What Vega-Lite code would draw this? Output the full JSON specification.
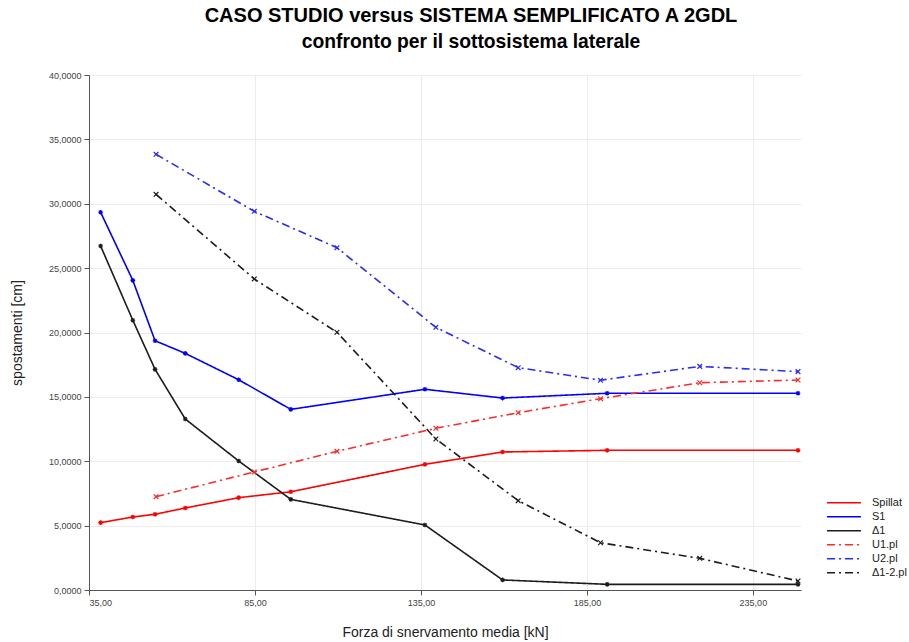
{
  "$schema": "https://vega.github.io/schema/vega-lite/v6.json",
  "autosize": "none",
  "width": 712,
  "height": 515,
  "padding": {"left": 89, "top": 75, "right": 108, "bottom": 52},
  "background": "white",
  "config": {
    "font": "Liberation Sans",
    "view": {"stroke": null},
    "axis": {"labelFont": "Liberation Sans", "titleFont": "Liberation Sans", "labelColor": "#444", "labelFontSize": 9, "titleFontSize": 14, "titleFontWeight": "normal", "titleColor": "#222", "gridColor": "#ececec", "tickColor": "#555", "domainColor": "#555", "tickSize": 5}
  },
  "title": {
    "text": "CASO STUDIO versus SISTEMA SEMPLIFICATO A 2GDL",
    "subtitle": "confronto per il sottosistema laterale",
    "font": "Liberation Sans",
    "subtitleFont": "Liberation Sans",
    "fontSize": 20,
    "fontWeight": "bold",
    "subtitleFontSize": 19.3,
    "subtitleFontWeight": "bold",
    "subtitleColor": "#000",
    "color": "#000",
    "anchor": "middle",
    "dx": 26,
    "offset": 19,
    "subtitlePadding": 7
  },
  "data": {
    "values": [
      {"serie": "Spillat", "x": 38.5, "y": 5.23},
      {"serie": "Spillat", "x": 48.2, "y": 5.67},
      {"serie": "Spillat", "x": 54.9, "y": 5.88},
      {"serie": "Spillat", "x": 64.0, "y": 6.37},
      {"serie": "Spillat", "x": 80.1, "y": 7.17},
      {"serie": "Spillat", "x": 95.8, "y": 7.63},
      {"serie": "Spillat", "x": 136.2, "y": 9.76},
      {"serie": "Spillat", "x": 159.6, "y": 10.72},
      {"serie": "Spillat", "x": 191.1, "y": 10.85},
      {"serie": "Spillat", "x": 248.6, "y": 10.85},
      {"serie": "S1", "x": 38.5, "y": 29.34},
      {"serie": "S1", "x": 48.2, "y": 24.05},
      {"serie": "S1", "x": 54.9, "y": 19.36},
      {"serie": "S1", "x": 64.0, "y": 18.38},
      {"serie": "S1", "x": 80.1, "y": 16.33},
      {"serie": "S1", "x": 95.8, "y": 14.03},
      {"serie": "S1", "x": 136.2, "y": 15.59},
      {"serie": "S1", "x": 159.6, "y": 14.91},
      {"serie": "S1", "x": 191.1, "y": 15.28},
      {"serie": "S1", "x": 248.6, "y": 15.28},
      {"serie": "Δ1", "x": 38.5, "y": 26.72},
      {"serie": "Δ1", "x": 48.2, "y": 20.95},
      {"serie": "Δ1", "x": 54.9, "y": 17.14},
      {"serie": "Δ1", "x": 64.0, "y": 13.28},
      {"serie": "Δ1", "x": 80.1, "y": 10.02},
      {"serie": "Δ1", "x": 95.8, "y": 7.04},
      {"serie": "Δ1", "x": 136.2, "y": 5.05},
      {"serie": "Δ1", "x": 159.6, "y": 0.78},
      {"serie": "Δ1", "x": 191.1, "y": 0.44},
      {"serie": "Δ1", "x": 248.6, "y": 0.44},
      {"serie": "U1.pl", "x": 55.2, "y": 7.25},
      {"serie": "U1.pl", "x": 84.8, "y": 9.17},
      {"serie": "U1.pl", "x": 109.7, "y": 10.77},
      {"serie": "U1.pl", "x": 139.5, "y": 12.56},
      {"serie": "U1.pl", "x": 164.3, "y": 13.77},
      {"serie": "U1.pl", "x": 189.1, "y": 14.86},
      {"serie": "U1.pl", "x": 219.0, "y": 16.1},
      {"serie": "U1.pl", "x": 248.6, "y": 16.31},
      {"serie": "U2.pl", "x": 55.2, "y": 33.84},
      {"serie": "U2.pl", "x": 84.8, "y": 29.41},
      {"serie": "U2.pl", "x": 109.7, "y": 26.59},
      {"serie": "U2.pl", "x": 139.5, "y": 20.4},
      {"serie": "U2.pl", "x": 164.3, "y": 17.27},
      {"serie": "U2.pl", "x": 189.1, "y": 16.29},
      {"serie": "U2.pl", "x": 219.0, "y": 17.37},
      {"serie": "U2.pl", "x": 248.6, "y": 16.96},
      {"serie": "Δ1-2.pl", "x": 55.2, "y": 30.73},
      {"serie": "Δ1-2.pl", "x": 84.8, "y": 24.16},
      {"serie": "Δ1-2.pl", "x": 109.7, "y": 20.02},
      {"serie": "Δ1-2.pl", "x": 139.5, "y": 11.73},
      {"serie": "Δ1-2.pl", "x": 164.3, "y": 6.94},
      {"serie": "Δ1-2.pl", "x": 189.1, "y": 3.67},
      {"serie": "Δ1-2.pl", "x": 219.0, "y": 2.46},
      {"serie": "Δ1-2.pl", "x": 248.6, "y": 0.7}
    ]
  },
  "encoding": {
    "x": {
      "field": "x", "type": "quantitative",
      "scale": {"domain": [35, 249.5], "nice": false, "zero": false},
      "axis": {"values": [35, 85, 135, 185, 235], "labelExpr": "replace(format(datum.value, '.2f'), '.', ',')", "title": "Forza di snervamento media [kN]", "titlePadding": 18, "grid": true, "labelPadding": 3}
    },
    "y": {
      "field": "y", "type": "quantitative",
      "scale": {"domain": [0, 40], "nice": false},
      "axis": {"values": [0, 5, 10, 15, 20, 25, 30, 35, 40], "labelExpr": "replace(format(datum.value, '.4f'), '.', ',')", "title": "spostamenti [cm]", "titlePadding": 24, "grid": true, "labelPadding": 3}
    }
  },
  "resolve": {"legend": {"color": "independent", "strokeDash": "independent"}},
  "layer": [
    {
      "mark": {"type": "line", "strokeWidth": 1.6},
      "encoding": {
        "color": {
          "field": "serie", "type": "nominal",
          "scale": {"domain": ["Spillat", "S1", "Δ1", "U1.pl", "U2.pl", "Δ1-2.pl"], "range": ["#ff0000", "#0000ff", "#1c1c1c", "#ff2a2a", "#2a2aff", "#1c1c1c"]},
          "legend": {
            "title": null, "orient": "none", "legendX": 737, "legendY": 421,
            "symbolType": "M-1,0L1,0", "symbolSize": 1150, "symbolStrokeWidth": 1.5,
            "labelFontSize": 11, "labelFont": "Liberation Sans", "labelColor": "#222", "labelOffset": 10, "rowPadding": 0, "clipHeight": 13.3
          }
        },
        "strokeDash": {
          "field": "serie", "type": "nominal",
          "scale": {"domain": ["Spillat", "S1", "Δ1", "U1.pl", "U2.pl", "Δ1-2.pl"], "range": [[1, 0], [1, 0], [1, 0], [8, 4, 2, 4], [8, 4, 2, 4], [8, 4, 2, 4]]},
          "legend": {"title": null, "orient": "none", "legendX": 737, "legendY": 421, "symbolType": "M-1,0L1,0", "symbolSize": 1150, "symbolStrokeWidth": 1.5, "labelFontSize": 11, "labelFont": "Liberation Sans", "labelColor": "#222", "labelOffset": 10, "rowPadding": 0, "clipHeight": 13.3}
        },
        "strokeWidth": {
          "field": "serie", "type": "nominal",
          "scale": {"domain": ["Spillat", "S1", "Δ1", "U1.pl", "U2.pl", "Δ1-2.pl"], "range": [1.7, 1.7, 1.5, 1.1, 1.1, 1.1]},
          "legend": null
        }
      }
    },
    {
      "mark": {"type": "point", "filled": false, "size": 22, "strokeWidth": 1.2, "opacity": 1},
      "encoding": {
        "color": {
          "field": "serie", "type": "nominal",
          "legend": null
        },
        "shape": {
          "field": "serie", "type": "nominal",
          "scale": {"domain": ["Spillat", "S1", "Δ1", "U1.pl", "U2.pl", "Δ1-2.pl"], "range": ["M-1,0L1,0M0,-1L0,1M-0.7,-0.7L0.7,0.7M-0.7,0.7L0.7,-0.7", "M-1,0L1,0M0,-1L0,1M-0.7,-0.7L0.7,0.7M-0.7,0.7L0.7,-0.7", "M-1,0L1,0M0,-1L0,1M-0.7,-0.7L0.7,0.7M-0.7,0.7L0.7,-0.7", "M-1,-1L1,1M-1,1L1,-1", "M-1,-1L1,1M-1,1L1,-1", "M-1,-1L1,1M-1,1L1,-1"]},
          "legend": null
        }
      }
    }
  ]
}
